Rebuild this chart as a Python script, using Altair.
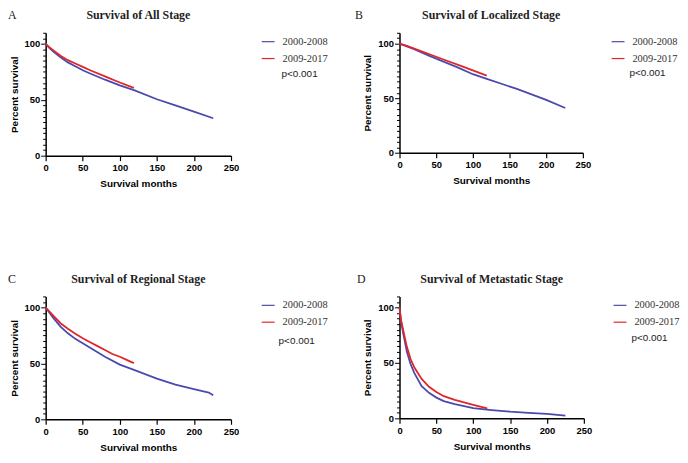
import altair as alt
import pandas as pd

PERIODS = ["2000-2008", "2009-2017"]
COLORS = ["#4a4aae", "#e02628"]

# Panel A - All stage
a_m_0008 = [0, 5, 10, 20, 30, 40, 50, 60, 80, 100, 120, 150, 175, 200, 226]
a_v_0008 = [100, 96.5, 93.5, 88, 83.5, 80, 76.5, 73.5, 68, 63, 58.5, 50.5, 45, 39.5, 33.5]
a_m_0917 = [0, 5, 10, 20, 30, 40, 50, 60, 80, 100, 119]
a_v_0917 = [100, 97, 94.5, 89.5, 85.5, 82.5, 79.5, 76.5, 71, 65.5, 60.7]

# Panel B - Localized stage
b_m_0008 = [0, 10, 20, 40, 60, 80, 100, 120, 140, 160, 180, 200, 226]
b_v_0008 = [100, 97.5, 95, 89, 83.5, 78, 72, 67.5, 63, 58.5, 53.5, 48.5, 41]
b_m_0917 = [0, 10, 20, 40, 60, 80, 100, 119]
b_v_0917 = [100, 98, 95.5, 90.5, 85.5, 80.5, 75.5, 70.7]

# Panel C - Regional stage
c_m_0008 = [0, 10, 20, 30, 40, 50, 60, 80, 100, 120, 150, 175, 200, 220, 226]
c_v_0008 = [100, 91, 83, 77, 72, 68, 64, 56, 49, 44, 36.5, 31, 27, 24, 21.5]
c_m_0917 = [0, 10, 20, 30, 40, 50, 60, 70, 80, 90, 100, 110, 119]
c_v_0917 = [100, 93, 86, 81, 76.5, 72.5, 69, 65.5, 62, 58.5, 56, 53, 50.3]

# Panel D - Metastatic stage
d_m_0008 = [0, 2, 5, 10, 15, 20, 30, 40, 50, 60, 75, 100, 125, 150, 175, 200, 225]
d_v_0008 = [100, 88, 77, 60, 49, 41, 29, 23, 18.7, 15.5, 12.8, 9.2, 7.5, 6, 5, 4, 2.5]
d_m_0917 = [0, 2, 5, 10, 15, 20, 30, 40, 50, 60, 75, 100, 119]
d_v_0917 = [100, 89, 79.5, 64.5, 53.5, 46, 35.5, 28.5, 23.7, 20, 16.6, 12.2, 9]

X_TICKS = [0, 50, 100, 150, 200, 250]
Y_TICKS = list(range(0, 111, 5))
P_TEXT = "p<0.001"


def make_df(m1, v1, m2, v2):
    rows = [{"month": m, "pct": v, "period": PERIODS[0]} for m, v in zip(m1, v1)]
    rows += [{"month": m, "pct": v, "period": PERIODS[1]} for m, v in zip(m2, v2)]
    return pd.DataFrame(rows)


SANS = "Liberation Sans"
SERIF = "Liberation Serif"


def panel(df, letter, title, w, h, letter_dx, leg_dx, p_dx, p_dy):
    xax = alt.Axis(values=X_TICKS, title="Survival months", titleFont=SANS, titleFontSize=10,
                   titleFontWeight="bold", titleColor="black", titlePadding=7,
                   labelFont=SANS, labelFontSize=9.5, labelFontWeight="bold", labelColor="black",
                   labelPadding=2, labelFlush=False, tickSize=5, tickColor="black", tickWidth=1.2,
                   domainColor="black", domainWidth=1.5, grid=False)
    yax = alt.Axis(values=Y_TICKS, title="Percent survival", titleFont=SANS, titleFontSize=10,
                   titleFontWeight="bold", titleColor="black", titlePadding=5,
                   labelFont=SANS, labelFontSize=9.5, labelFontWeight="bold", labelColor="black",
                   labelPadding=1, labelOverlap=False,
                   labelExpr="datum.value % 50 === 0 ? datum.label : ''",
                   tickSize={"condition": {"test": "datum.value % 50 === 0", "value": 5}, "value": 3},
                   tickColor="black", tickWidth=1, domainColor="black", domainWidth=1.5, grid=False)
    lines = alt.Chart(df).mark_line(strokeWidth=1.8).encode(
        x=alt.X("month:Q", scale=alt.Scale(domain=[0, 250], nice=False), axis=xax),
        y=alt.Y("pct:Q", scale=alt.Scale(domain=[0, 110], nice=False), axis=yax),
        color=alt.Color("period:N", scale=alt.Scale(domain=PERIODS, range=COLORS),
                        legend=alt.Legend(orient="none", legendX=w + leg_dx, legendY=1.5, title=None,
                                          symbolType="stroke", symbolSize=169, symbolStrokeWidth=1.2,
                                          labelFont=SERIF, labelFontSize=10.5, labelColor="#333333",
                                          labelOffset=7, rowPadding=4, padding=0)),
    )
    ptxt = alt.Chart(pd.DataFrame({"t": [P_TEXT]})).mark_text(
        align="left", baseline="middle", font=SANS, fontSize=10, color="#222222"
    ).encode(text="t:N", x=alt.value(w + p_dx), y=alt.value(p_dy))
    ttl = alt.Chart(pd.DataFrame({"t": [title]})).mark_text(
        align="center", baseline="alphabetic", font=SERIF, fontSize=12, fontWeight="bold", color="#222222"
    ).encode(text="t:N", x=alt.value(w / 2), y=alt.value(-14))
    let = alt.Chart(pd.DataFrame({"t": [letter]})).mark_text(
        align="left", baseline="alphabetic", font=SERIF, fontSize=12, color="#222222"
    ).encode(text="t:N", x=alt.value(letter_dx), y=alt.value(-14))
    return alt.layer(lines, ptxt, ttl, let).properties(width=w, height=h)


pA = panel(make_df(a_m_0008, a_v_0008, a_m_0917, a_v_0917), "A", "Survival of All Stage", 187, 124, -38, 30, 51, 42)
pB = panel(make_df(b_m_0008, b_v_0008, b_m_0917, b_v_0917), "B", "Survival of Localized Stage", 185, 121, -45, 28, 47, 41)
pC = panel(make_df(c_m_0008, c_v_0008, c_m_0917, c_v_0917), "C", "Survival of Regional Stage", 187, 124, -38, 30, 48, 45)
pD = panel(make_df(d_m_0008, d_v_0008, d_m_0917, d_v_0917), "D", "Survival of Metastatic Stage", 186, 123, -43, 29, 48, 42)

chart = alt.concat(pA, pB, pC, pD, columns=2, spacing={"row": 142, "column": 170}, bounds="flush").resolve_scale(
    color="independent").resolve_legend(color="independent").configure(
    padding={"left": 0, "top": -1, "right": 0, "bottom": 0}, background="white"
).configure_view(stroke=None)

chart.save("out.html", embed_options={"renderer": "svg", "actions": False})
